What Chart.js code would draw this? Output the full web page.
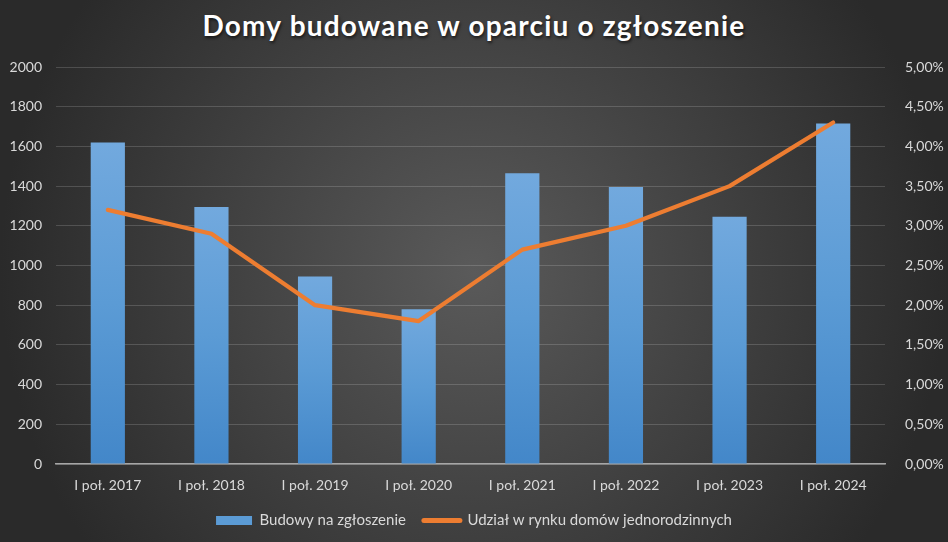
<!DOCTYPE html>
<html>
<head>
<meta charset="utf-8">
<script src="https://cdn.jsdelivr.net/npm/chart.js@4.4.1/dist/chart.umd.min.js"></script>
<style>
  html, body { margin: 0; padding: 0; }
  body {
    width: 948px; height: 542px; overflow: hidden; position: relative;
    background: radial-gradient(circle farthest-side at 50% 50%, #5a5a5a 0%, #2a2a2a 100%);
  }
  #title {
    position: absolute; left: 0; top: 11px; width: 948px;
    text-align: center; color: #fff;
    font: bold 28px Lato, sans-serif; line-height: 28px;
    letter-spacing: 1.2px;
    text-shadow: 1px 2px 3px rgba(0,0,0,0.6);
  }
  #wrap { position: absolute; left: 0; top: 0; width: 948px; height: 542px; }
</style>
</head>
<body>
<div id="title">Domy budowane w oparciu o zgłoszenie</div>
<div id="wrap"><canvas id="chart"></canvas></div>
<script>
// dane
var labels = ["I poł. 2017", "I poł. 2018", "I poł. 2019", "I poł. 2020",
              "I poł. 2021", "I poł. 2022", "I poł. 2023", "I poł. 2024"];
var budowy = [1620, 1295, 945, 780, 1465, 1395, 1245, 1715];
var udzial = [3.2, 2.9, 2.0, 1.8, 2.7, 3.0, 3.5, 4.3];   // w procentach
var barName = "Budowy na zgłoszenie";
var lineName = "Udział w rynku domów jednorodzinnych";

var blue = "#5b9bd5";
var orange = "#ed7d31";
var tickColor = "#d9d9d9";

function barGradient(c) {
    var chart = c.chart;
    var y = chart.scales && chart.scales.y;
    if (!y || c.dataIndex === undefined) return blue;
    var top = y.getPixelForValue(c.raw);
    var bottom = y.getPixelForValue(0);
    if (!isFinite(top) || !isFinite(bottom) || top === bottom) return blue;
    var g = chart.ctx.createLinearGradient(0, top, 0, bottom);
    g.addColorStop(0, "#72a9de");
    g.addColorStop(0.5, "#5b9bd5");
    g.addColorStop(1, "#4387c9");
    return g;
}

function pct(v) {
    return v.toFixed(2).replace(".", ",") + "%";
}

var font = { family: "Lato, sans-serif", size: 14 };

new Chart(document.getElementById("chart"), {
    data: {
        labels: labels,
        datasets: [
            {
                type: "bar",
                label: barName,
                data: budowy,
                yAxisID: "y",
                backgroundColor: barGradient,
                barPercentage: 0.33,
                categoryPercentage: 1.0,
                order: 1
            },
            {
                type: "line",
                label: lineName,
                data: udzial,
                yAxisID: "y1",
                borderColor: orange,
                backgroundColor: orange,
                borderWidth: 4.2,
                borderCapStyle: "round",
                borderJoinStyle: "round",
                pointRadius: 0,
                pointHoverRadius: 0,
                tension: 0,
                order: 0
            }
        ]
    },
    options: {
        responsive: true,
        maintainAspectRatio: false,
        animation: false,
        layout: { padding: { top: 67, left: 0, right: 0, bottom: 4 } },
        plugins: {
            title: { display: false },
            tooltip: { enabled: false },
            legend: {
                position: "bottom",
                labels: {
                    color: tickColor,
                    font: { family: "Lato, sans-serif", size: 15 },
                    usePointStyle: true,
                    pointStyleWidth: 36,
                    boxHeight: 9,
                    padding: 18,
                    generateLabels: function (chart) {
                        return [
                            { text: barName, datasetIndex: 0, fillStyle: blue, strokeStyle: blue,
                              lineWidth: 0, pointStyle: "rect", fontColor: tickColor },
                            { text: lineName, datasetIndex: 1, fillStyle: orange, strokeStyle: orange,
                              lineWidth: 5, lineCap: "round", pointStyle: "line", fontColor: tickColor }
                        ];
                    }
                }
            }
        },
        scales: {
            x: {
                grid: { display: false, drawTicks: false },
                border: { display: true, color: "#a6a6a6", width: 1.5 },
                ticks: { color: tickColor, font: font, padding: 13, maxRotation: 0 },
                afterFit: function (s) { s.height = 31; }
            },
            y: {
                position: "left",
                min: 0, max: 2000,
                ticks: { stepSize: 200, color: tickColor, font: font, padding: 14,
                         callback: function (v) { return String(v); } },
                grid: { color: "rgba(255,255,255,0.16)", lineWidth: 1, drawTicks: false },
                border: { display: false },
                afterFit: function (s) { s.width = 56; }
            },
            y1: {
                position: "right",
                min: 0, max: 5,
                ticks: { stepSize: 0.5, color: tickColor, font: font, padding: 12,
                         callback: function (v) { return pct(v); } },
                grid: { display: false, drawOnChartArea: false },
                border: { display: false },
                afterFit: function (s) { s.width = 63; }
            }
        }
    }
});
</script>
</body>
</html>
